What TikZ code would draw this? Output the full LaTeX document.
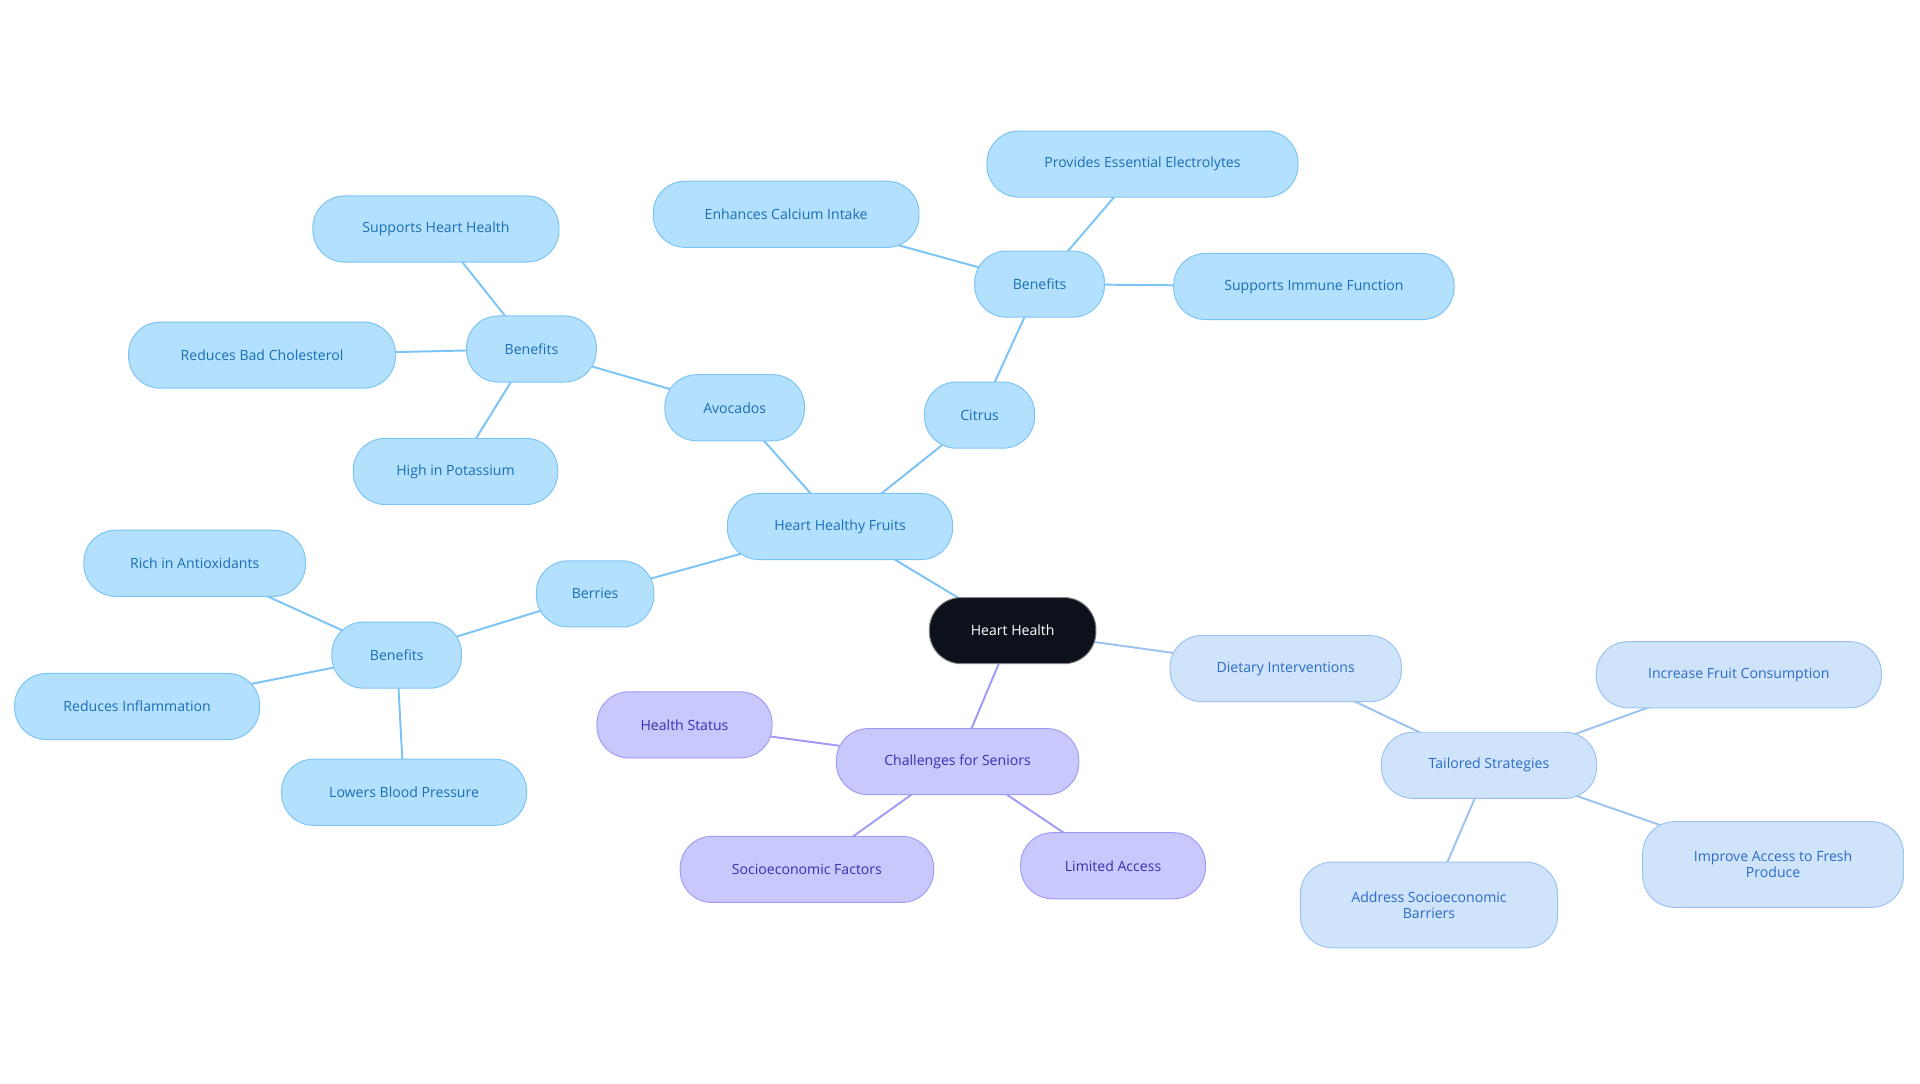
\documentclass[tikz,border=0pt]{standalone}
\usepackage{fontspec}
\setmainfont{Open Sans}
\usetikzlibrary{backgrounds}
\definecolor{bfill}{HTML}{B3E0FD}\definecolor{bdraw}{HTML}{7CC4F5}\definecolor{btext}{HTML}{1A6FB5}
\definecolor{lfill}{HTML}{CFE3FB}\definecolor{ldraw}{HTML}{9CC3F0}\definecolor{ltext}{HTML}{2C6CC6}
\definecolor{pfill}{HTML}{C9C8FD}\definecolor{pdraw}{HTML}{A09CF5}\definecolor{ptext}{HTML}{3A2FB0}
\definecolor{dark}{HTML}{0C111B}
\begin{document}
\begin{tikzpicture}[x=1pt,y=-1pt,
 base/.style={rounded corners=26pt,minimum height=54pt,inner sep=2pt,font=\fontsize{11.5}{13}\selectfont,align=center,line width=0.8pt},
 b/.style={base,fill=bfill,draw=bdraw,text=btext},
 l/.style={base,fill=lfill,draw=ldraw,text=ltext},
 p/.style={base,fill=pfill,draw=pdraw,text=ptext},
 eb/.style={draw=bdraw,line width=1.6pt},
 el/.style={draw=ldraw,line width=1.6pt},
 ep/.style={draw=pdraw,line width=1.6pt}]
\useasboundingbox (0,0) rectangle (1568,884.5);
\node[base,fill=dark,draw=gray,text=white,minimum width=136pt] (hh) at (827,515) {Heart Health};
\node[b,minimum width=184pt] (hhf) at (686,430) {Heart Healthy Fruits};
\node[b,minimum width=114pt] (avo) at (600,333) {Avocados};
\node[b,minimum width=90pt] (cit) at (800,339) {Citrus};
\node[b,minimum width=106pt] (benc) at (849,232) {Benefits};
\node[b,minimum width=254pt] (prov) at (933,134) {Provides Essential Electrolytes};
\node[b,minimum width=217pt] (enh) at (642,175) {Enhances Calcium Intake};
\node[b,minimum width=229pt] (imm) at (1073,234) {Supports Immune Function};
\node[b,minimum width=106pt] (bena) at (434,285) {Benefits};
\node[b,minimum width=201pt] (sh) at (356,187) {Supports Heart Health};
\node[b,minimum width=218pt] (rbc) at (214,290) {Reduces Bad Cholesterol};
\node[b,minimum width=167pt] (hp) at (372,385) {High in Potassium};
\node[b,minimum width=96pt] (ber) at (486,485) {Berries};
\node[b,minimum width=106pt] (benb) at (324,535) {Benefits};
\node[b,minimum width=181pt] (rich) at (159,460) {Rich in Antioxidants};
\node[b,minimum width=200pt] (ri) at (112,577) {Reduces Inflammation};
\node[b,minimum width=200pt] (lbp) at (330,647) {Lowers Blood Pressure};
\node[l,minimum width=189pt] (di) at (1050,546) {Dietary Interventions};
\node[l,minimum width=176pt] (ts) at (1216,625) {Tailored Strategies};
\node[l,minimum width=233pt] (ifc) at (1420,551) {Increase Fruit Consumption};
\node[l,minimum width=213pt,minimum height=70pt] (iaf) at (1448,706) {Improve Access to Fresh\\Produce};
\node[l,minimum width=210pt,minimum height=70pt] (asb) at (1167,739) {Address Socioeconomic\\Barriers};
\node[p,minimum width=198pt] (cs) at (782,622) {Challenges for Seniors};
\node[p,minimum width=143pt] (hs) at (559,592) {Health Status};
\node[p,minimum width=207pt] (sf) at (659,710) {Socioeconomic Factors};
\node[p,minimum width=151pt] (la) at (909,707) {Limited Access};
\begin{scope}[on background layer]
\foreach \a/\c in {hh/hhf,hhf/avo,hhf/cit,cit/benc,benc/prov,benc/enh,benc/imm,avo/bena,bena/sh,bena/rbc,bena/hp,hhf/ber,ber/benb,benb/rich,benb/ri,benb/lbp}
 \path[eb] (\a.center) -- (\c.center);
\foreach \a/\c in {hh/di,di/ts,ts/ifc,ts/iaf,ts/asb}
 \path[el] (\a.center) -- (\c.center);
\foreach \a/\c in {hh/cs,cs/hs,cs/sf,cs/la}
 \path[ep] (\a.center) -- (\c.center);
\end{scope}
\end{tikzpicture}
\end{document}
